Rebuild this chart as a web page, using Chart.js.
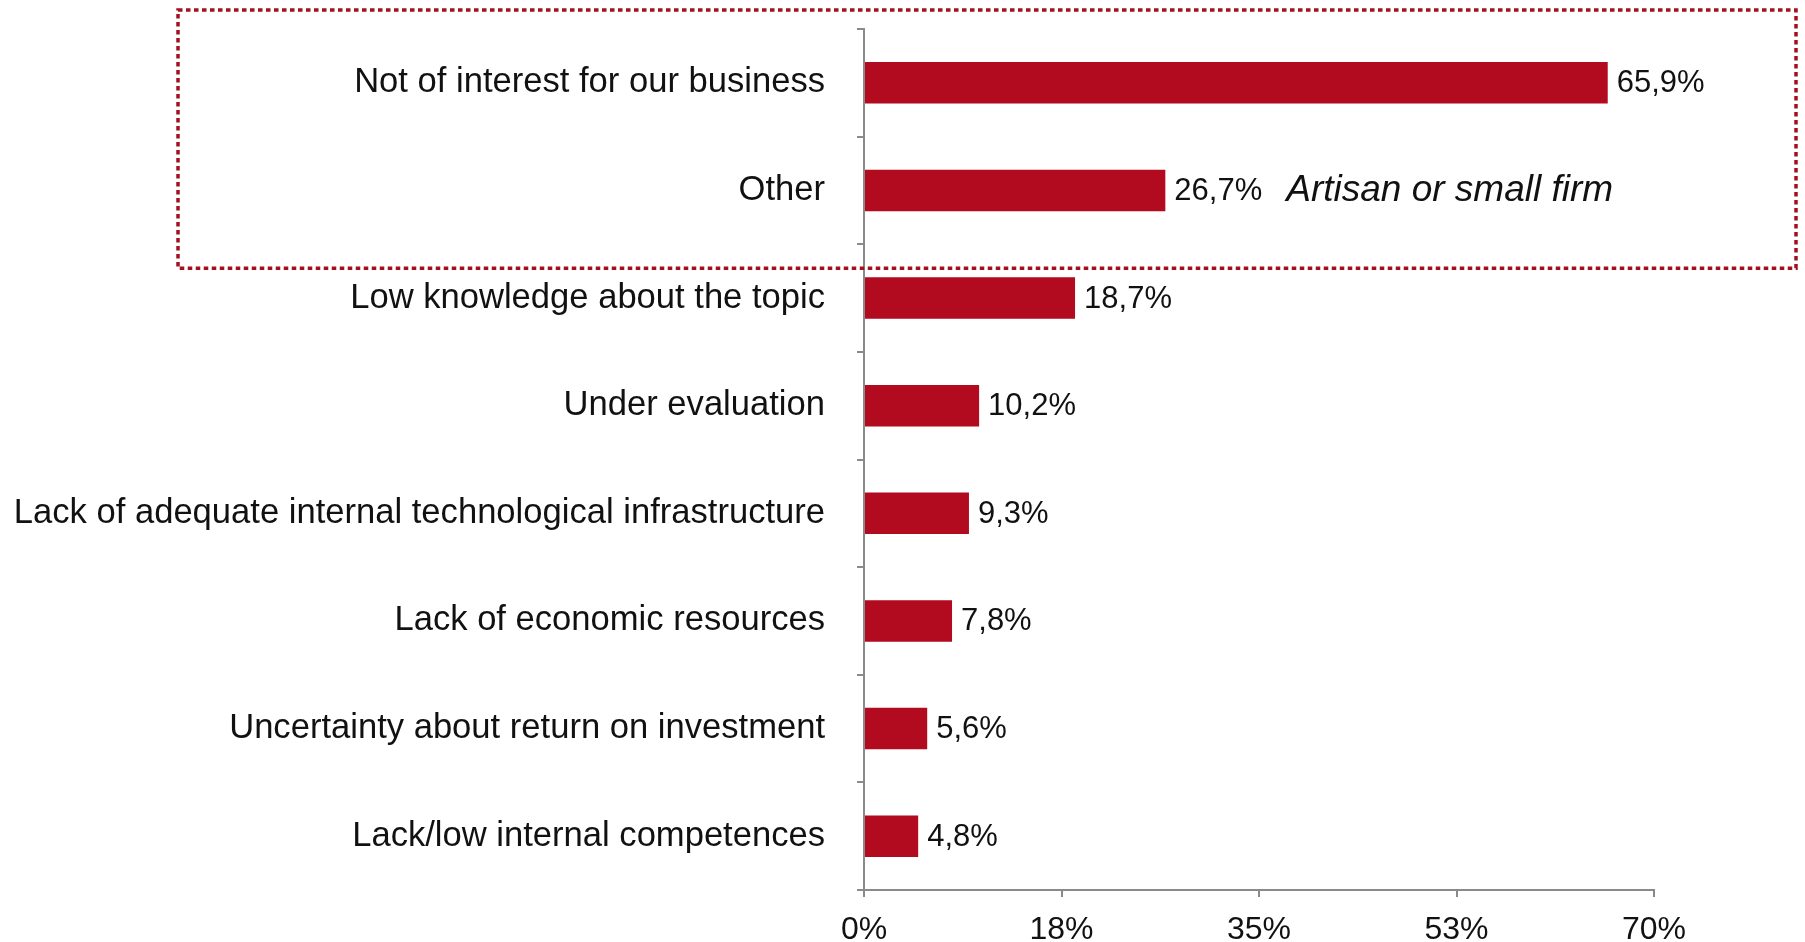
<!DOCTYPE html>
<html lang="en">
<head>
  <meta charset="UTF-8">
  <title>Reasons for not adopting</title>
  <script src="https://cdn.jsdelivr.net/npm/chart.js"></script>
  <style>
    html, body {
      margin: 0;
      padding: 0;
      background: #ffffff;
    }
    canvas {
      display: block;
    }
  </style>
</head>
<body>

<canvas id="grafico" width="1805" height="942"></canvas>

<script>
const categorias = [
  'Not of interest for our business',
  'Other',
  'Low knowledge about the topic',
  'Under evaluation',
  'Lack of adequate internal technological infrastructure',
  'Lack of economic resources',
  'Uncertainty about return on investment',
  'Lack/low internal competences'
];
const valores = [65.9, 26.7, 18.7, 10.2, 9.3, 7.8, 5.6, 4.8];
const ticksX = ['0%', '18%', '35%', '53%', '70%'];
const nota = 'Artisan or small firm';

const ROJO = '#b20a1f';
const GRIS = '#8a8a8a';
const FUENTE = "'Liberation Sans', Arial, Helvetica, sans-serif";

// porcentaje con coma decimal, como en el original
function formato(v) {
  return v.toFixed(1).replace('.', ',') + '%';
}

// etiquetas de valor a la derecha de cada barra + recuadro punteado
const etiquetas = {
  id: 'etiquetas',
  afterDatasetsDraw(chart) {
    const ctx = chart.ctx;
    const meta = chart.getDatasetMeta(0);
    ctx.save();
    ctx.fillStyle = '#111';
    ctx.font = '31px ' + FUENTE;
    ctx.textAlign = 'left';
    ctx.textBaseline = 'middle';
    let finOther = 0;
    meta.data.forEach((bar, i) => {
      const txt = formato(valores[i]);
      ctx.fillText(txt, bar.x + 9, bar.y + 1);
      if (i === 1) finOther = bar.x + 9 + ctx.measureText(txt).width;
    });

    // nota en cursiva junto a "Other"
    ctx.font = 'italic 37px ' + FUENTE;
    ctx.fillText(nota, finOther + 24, meta.data[1].y);

    // recuadro punteado alrededor de las dos primeras categorías
    const y = chart.scales.y;
    const limite = (y.getPixelForValue(1) + y.getPixelForValue(2)) / 2;
    ctx.strokeStyle = '#a3101f';
    ctx.lineWidth = 3.5;
    ctx.setLineDash([4.5, 3.5]);
    ctx.strokeRect(178, 10, 1796 - 178, limite + 24 - 10);
    ctx.restore();
  }
};

const ctx = document.getElementById('grafico').getContext('2d');

new Chart(ctx, {
  type: 'bar',
  data: {
    labels: categorias,
    datasets: [{
      data: valores,
      backgroundColor: ROJO,
      borderWidth: 0,
      barPercentage: 0.386,
      categoryPercentage: 1
    }]
  },
  options: {
    indexAxis: 'y',
    responsive: false,
    animation: false,
    layout: {
      padding: { top: 29, right: 151, bottom: 0, left: 0 }
    },
    scales: {
      x: {
        min: 0,
        max: 70,
        afterBuildTicks(scale) {
          scale.ticks = ticksX.map((_, i) => ({ value: i * 17.5 }));
        },
        afterFit(scale) {
          scale.height = 52;
        },
        ticks: {
          callback: (v, i) => ticksX[i],
          font: { family: FUENTE, size: 32 },
          color: '#111',
          padding: 14,
          maxRotation: 0,
          autoSkip: false
        },
        grid: {
          drawOnChartArea: false,
          drawTicks: true,
          tickLength: 7,
          color: GRIS,
          lineWidth: 2
        },
        border: { display: true, color: GRIS, width: 2 }
      },
      y: {
        afterFit(scale) {
          scale.width = 864;
          // sin margen extra arriba/abajo por las etiquetas
          scale.paddingTop = 0;
          scale.paddingBottom = 0;
        },
        ticks: {
          font: { family: FUENTE, size: 34.6 },
          color: '#111',
          padding: 32
        },
        grid: {
          drawOnChartArea: false,
          drawTicks: true,
          tickLength: 7,
          color: GRIS,
          lineWidth: 2
        },
        border: { display: true, color: GRIS, width: 2 }
      }
    },
    plugins: {
      legend: { display: false },
      tooltip: { enabled: false }
    }
  },
  plugins: [etiquetas]
});
</script>

</body>
</html>
